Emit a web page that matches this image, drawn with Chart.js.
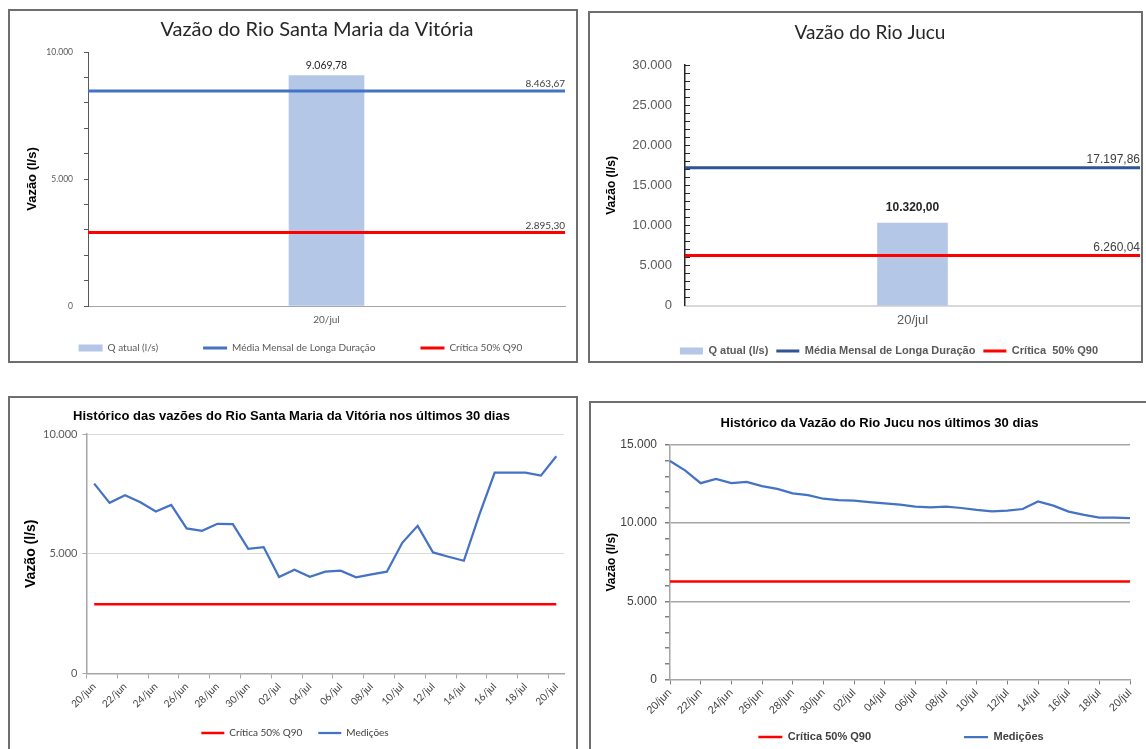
<!DOCTYPE html>
<html><head><meta charset="utf-8">
<script src="https://cdn.jsdelivr.net/npm/chart.js@4.4.1/dist/chart.umd.min.js"></script>
<style>
html,body{margin:0;padding:0;background:#fff;width:1146px;height:749px;overflow:hidden;position:relative;}
canvas{position:absolute;}
.b{position:absolute;border:2px solid #6e6e6e;box-sizing:border-box;pointer-events:none;}
</style></head><body>
<canvas id="c1" width="566" height="352" style="left:10px;top:11px"></canvas>
<canvas id="c2" width="550" height="353" style="left:591px;top:14px"></canvas>
<canvas id="c3" width="566" height="349" style="left:10px;top:399px"></canvas>
<canvas id="c4" width="555" height="349" style="left:591px;top:404px"></canvas>
<div class="b" style="left:8px;top:9px;width:570px;height:354px"></div>
<div class="b" style="left:588px;top:11px;width:555px;height:352px"></div>
<div class="b" style="left:8px;top:396px;width:570px;height:400px"></div>
<div class="b" style="left:589px;top:401px;width:600px;height:400px"></div>
<script>
// ---------- DATA ----------
const smvCategoria = ['20/jul'];
const smvQAtual = [9069.78];
const smvMedia = 8463.67;
const smvCritica = 2895.30;
const smvTicksY = [0, 5000, 10000];

const jucuCategoria = ['20/jul'];
const jucuQAtual = [10320.00];
const jucuMedia = 17197.86;
const jucuCritica = 6260.04;
const jucuTicksY = [0, 5000, 10000, 15000, 20000, 25000, 30000];

const dias = ['20/jun','21/jun','22/jun','23/jun','24/jun','25/jun','26/jun','27/jun','28/jun','29/jun','30/jun',
  '01/jul','02/jul','03/jul','04/jul','05/jul','06/jul','07/jul','08/jul','09/jul','10/jul',
  '11/jul','12/jul','13/jul','14/jul','15/jul','16/jul','17/jul','18/jul','19/jul','20/jul'];
const smvMedicoes = [7930, 7125, 7445, 7153, 6764, 7042, 6056, 5958, 6250, 6236, 5208,
  5278, 4028, 4333, 4042, 4250, 4292, 4014, 4139, 4250, 5458,
  6167, 5055, 4875, 4708, 6625, 8389, 8389, 8389, 8264, 9069.78];
const jucuMedicoes = [13977, 13362, 12558, 12833, 12558, 12643, 12367, 12198, 11901, 11795, 11562,
  11478, 11435, 11350, 11260, 11181, 11054, 11012, 11054, 10970, 10843,
  10758, 10800, 10906, 11393, 11118, 10737, 10525, 10355, 10355, 10320];
const smvHistTicksY = [0, 5000, 10000];
const jucuHistTicksY = [0, 5000, 10000, 15000];

// ---------- HELPERS ----------
function fmtInt(v){ return Math.round(v).toString().replace(/\B(?=(\d{3})+(?!\d))/g,'.'); }
function fmtDec(v){ const p = v.toFixed(2).split('.'); return fmtInt(+p[0]) + ',' + p[1]; }
const CAL = "Lato, 'Open Sans', sans-serif";
const ARI = "'Liberation Sans', Arial, sans-serif";

const valueLabels = {
  id: 'valueLabels',
  afterDatasetsDraw(chart, args, opts){
    const items = opts.items || [];
    const ctx = chart.ctx;
    ctx.save();
    items.forEach(it => {
      const meta = chart.getDatasetMeta(it.ds);
      const pts = meta.data; const el = pts[pts.length - 1];
      const raw = chart.data.datasets[it.ds].data; const last = raw[raw.length - 1];
      const v = (typeof last === 'object') ? last.y : last;
      ctx.font = it.font; ctx.fillStyle = it.color; ctx.textBaseline = 'middle';
      if (it.kind === 'bar') { ctx.textAlign = 'center'; ctx.fillText(fmtDec(v), el.x, el.y - it.dy); }
      else { ctx.textAlign = 'right'; ctx.fillText(fmtDec(v), chart.chartArea.right + (it.dx || 0), el.y - it.dy); }
    });
    ctx.restore();
  }
};
const boxShift = {
  id: 'boxShift',
  afterLayout(chart, args, o){
    const t = chart.titleBlock, l = chart.legend;
    if (t && o.titleX != null){ const s = o.titleX - (t.left + t.right)/2; t.left += s; t.right += s; }
    if (l && o.legendX != null){ const s = o.legendX - (l.left + l.right)/2; l.left += s; l.right += s; }
    if (l && o.legendY != null){
      const lo = chart.options.plugins.legend.labels;
      const fs = lo.font.size;
      const cur = l.top + lo.padding + fs/2;
      const s = o.legendY - cur; l.top += s;
      l.bottom = Math.max(l.bottom + s, o.legendY + fs);
    }
  }
};
Chart.register(valueLabels, boxShift);
Chart.defaults.animation = false;
Chart.defaults.responsive = false;
Chart.defaults.devicePixelRatio = 1;
Chart.defaults.plugins.tooltip.enabled = false;

function legendOpts(font, color, padding, R, psw, boxH){
  return { position: 'bottom', maxHeight: R,
    labels: { usePointStyle: true, pointStyleWidth: psw, boxHeight: boxH, padding: padding,
      font: font, color: color, sort: (a,b) => a.datasetIndex - b.datasetIndex } };
}
function padB(fs, padding, R){ return Math.max(0, R - (fs + padding + 10)); }

// ---------- CHART 1 ----------
new Chart(document.getElementById('c1'), {
  type: 'bar',
  data: { labels: smvCategoria, datasets: [
    { label: 'Q atual (l/s)', data: smvQAtual, backgroundColor: '#B4C7E7', barThickness: 75, grouped: false, order: 1, pointStyle: 'rect' },
    { type: 'line', label: 'Média Mensal de Longa Duração', xAxisID: 'xl', data: [{x:0,y:smvMedia},{x:1,y:smvMedia}],
      borderColor: '#4472C4', backgroundColor: '#4472C4', borderWidth: 3, pointRadius: 0, order: 0, pointStyle: 'line' },
    { type: 'line', label: 'Crítica 50% Q90', xAxisID: 'xl', data: [{x:0,y:smvCritica},{x:1,y:smvCritica}],
      borderColor: '#FF0000', backgroundColor: '#FF0000', borderWidth: 3, pointRadius: 0, order: 0, pointStyle: 'line' }
  ]},
  options: {
    layout: { padding: { left: 0, right: 11, top: 0, bottom: padB(10, 45, 29) } },
    scales: {
      x: { type: 'category', offset: true, grid: { display: false, drawTicks: false },
        border: { color: '#A6A6A6', width: 1 },
        ticks: { font: { family: CAL, size: 10 }, color: '#595959', padding: 8 } },
      xl: { type: 'linear', min: 0, max: 1, display: false, offset: false, grid: { offset: false } },
      y: { min: 0, max: 10000, afterFit: s => { s.width = 78; },
        ticks: { stepSize: 1000, autoSkip: false, padding: 11, font: { family: CAL, size: 8.5 }, color: '#595959',
          callback: v => smvTicksY.includes(v) ? fmtInt(v) : '' },
        grid: { drawOnChartArea: false, tickLength: 4, color: '#595959' },
        border: { color: '#595959', width: 1 },
        title: { display: true, text: 'Vazão (l/s)', font: { family: ARI, size: 13, weight: 'bold' }, color: '#000', padding: { top: 14.2, bottom: 0 } } }
    },
    plugins: {
      title: { display: true, text: 'Vazão do Rio Santa Maria da Vitória', font: { family: CAL, size: 20, weight: 'normal' }, color: '#262626', padding: { top: 7, bottom: 10 } },
      legend: legendOpts({ family: CAL, size: 10 }, '#595959', 45, 29, 24, 7),
      boxShift: { titleX: 307, legendX: 290.5, legendY: 337 },
      valueLabels: { items: [
        { ds: 0, kind: 'bar', dy: 10, font: '10.5px ' + CAL, color: '#262626' },
        { ds: 1, kind: 'line', dy: 7, font: '10px ' + CAL, color: '#404040' },
        { ds: 2, kind: 'line', dy: 7, font: '10px ' + CAL, color: '#404040' } ] }
    }
  }
});

// ---------- CHART 2 ----------
new Chart(document.getElementById('c2'), {
  type: 'bar',
  data: { labels: jucuCategoria, datasets: [
    { label: 'Q atual (l/s)', data: jucuQAtual, backgroundColor: '#B4C7E7', barThickness: 70, grouped: false, order: 1, pointStyle: 'rect' },
    { type: 'line', label: 'Média Mensal de Longa Duração', xAxisID: 'xl', data: [{x:0,y:jucuMedia},{x:1,y:jucuMedia}],
      borderColor: '#2F5597', backgroundColor: '#2F5597', borderWidth: 3, pointRadius: 0, order: 0, pointStyle: 'line' },
    { type: 'line', label: 'Crítica  50% Q90', xAxisID: 'xl', data: [{x:0,y:jucuCritica},{x:1,y:jucuCritica}],
      borderColor: '#FF0000', backgroundColor: '#FF0000', borderWidth: 3, pointRadius: 0, order: 0, pointStyle: 'line' }
  ]},
  options: {
    layout: { padding: { left: 0, right: 1, top: 0, bottom: padB(11, 8, 31.2) } },
    scales: {
      x: { type: 'category', offset: true, grid: { display: false, drawTicks: false },
        border: { color: '#D9D9D9', width: 2 },
        ticks: { font: { family: ARI, size: 13 }, color: '#595959', padding: 7.2 } },
      xl: { type: 'linear', min: 0, max: 1, display: false, offset: false, grid: { offset: false } },
      y: { min: 0, max: 30000, afterFit: s => { s.width = 94; },
        ticks: { stepSize: 1000, autoSkip: false, padding: 18, font: { family: ARI, size: 13 }, color: '#595959',
          callback: v => jucuTicksY.includes(v) ? fmtInt(v) : '' },
        grid: { drawOnChartArea: false, tickLength: -5, color: '#262626' },
        border: { color: '#262626', width: 1.5 },
        title: { display: true, text: 'Vazão (l/s)', font: { family: ARI, size: 12, weight: 'bold' }, color: '#000', padding: { top: 13.8, bottom: 0 } } }
    },
    plugins: {
      title: { display: true, text: 'Vazão do Rio Jucu', font: { family: CAL, size: 19, weight: 'normal' }, color: '#262626', padding: { top: 7.6, bottom: 20.6 } },
      legend: legendOpts({ family: ARI, size: 11, weight: 'bold' }, '#595959', 8, 31.2, 23, 7),
      boxShift: { titleX: 279, legendX: 298, legendY: 337 },
      valueLabels: { items: [
        { ds: 0, kind: 'bar', dy: 15, font: 'bold 12px ' + ARI, color: '#262626' },
        { ds: 1, kind: 'line', dy: 8, font: '12px ' + ARI, color: '#404040' },
        { ds: 2, kind: 'line', dy: 8, font: '12px ' + ARI, color: '#404040' } ] }
    }
  }
});

// ---------- CHART 3 ----------
new Chart(document.getElementById('c3'), {
  type: 'line',
  data: { labels: dias, datasets: [
    { label: 'Crítica 50% Q90', data: [{x: dias[0], y: smvCritica}, {x: dias[dias.length-1], y: smvCritica}],
      borderColor: '#FF0000', backgroundColor: '#FF0000', borderWidth: 2.5, pointRadius: 0, pointStyle: 'line' },
    { label: 'Medições', data: smvMedicoes, borderColor: '#4472C4', backgroundColor: '#4472C4', borderWidth: 2.25, pointRadius: 0, pointStyle: 'line' }
  ]},
  options: {
    layout: { padding: { left: 0, right: 12, top: 0, bottom: padB(10, 16, 36) } },
    scales: {
      x: { type: 'category', offset: true,
        grid: { offset: true, drawOnChartArea: false, tickLength: 5, tickColor: c => (c.index % 2 === 0) ? '#A6A6A6' : 'rgba(0,0,0,0)' },
        border: { color: '#A6A6A6', width: 1.5 },
        ticks: { autoSkip: false, maxRotation: 45, minRotation: 45, padding: 2, font: { family: CAL, size: 10 }, color: '#404040',
          callback: (v, i) => (i % 2 === 0) ? dias[i] : '' } },
      y: { min: 0, max: 10000, afterFit: s => { s.width = 76.5; },
        ticks: { stepSize: 5000, autoSkip: false, padding: 5, font: { family: CAL, size: 11 }, color: '#595959',
          callback: v => smvHistTicksY.includes(v) ? fmtInt(v) : '' },
        grid: { color: '#D9D9D9', tickLength: 4, tickColor: '#A6A6A6' },
        border: { color: '#A6A6A6', width: 1.5 },
        title: { display: true, text: 'Vazão (l/s)', font: { family: ARI, size: 14, weight: 'bold' }, color: '#000', padding: { top: 12.6, bottom: 0 } } }
    },
    plugins: {
      title: { display: true, text: 'Histórico das vazões do Rio Santa Maria da Vitória nos últimos 30 dias', font: { family: ARI, size: 13, weight: 'bold' }, color: '#000', padding: { top: 9.2, bottom: 10.2 } },
      legend: legendOpts({ family: CAL, size: 10 }, '#404040', 16, 36, 23, 7),
      boxShift: { titleX: 281.5, legendX: 285, legendY: 334 }
    }
  }
});

// ---------- CHART 4 ----------
new Chart(document.getElementById('c4'), {
  type: 'line',
  data: { labels: dias, datasets: [
    { label: 'Crítica 50% Q90', data: [{x: dias[0], y: jucuCritica}, {x: dias[dias.length-1], y: jucuCritica}],
      borderColor: '#FF0000', backgroundColor: '#FF0000', borderWidth: 2.5, pointRadius: 0, pointStyle: 'line' },
    { label: 'Medições', data: jucuMedicoes, borderColor: '#4472C4', backgroundColor: '#4472C4', borderWidth: 2.25, pointRadius: 0, pointStyle: 'line' }
  ]},
  options: {
    layout: { padding: { left: 0, right: 16, top: 0, bottom: padB(11, 93, 34) } },
    scales: {
      x: { type: 'category', offset: false,
        grid: { drawOnChartArea: false, tickLength: 5, tickColor: c => (c.index % 2 === 0) ? '#808080' : 'rgba(0,0,0,0)' },
        border: { color: '#A6A6A6', width: 1.5 },
        ticks: { autoSkip: false, maxRotation: 45, minRotation: 45, padding: 2, font: { family: ARI, size: 11 }, color: '#404040',
          callback: (v, i) => (i % 2 === 0) ? dias[i] : '' } },
      y: { min: 0, max: 15000, afterFit: s => { s.width = 79; },
        ticks: { stepSize: 1000, autoSkip: false, padding: 8, font: { family: ARI, size: 12 }, color: '#404040',
          callback: v => jucuHistTicksY.includes(v) ? fmtInt(v) : '' },
        grid: { color: c => (c.tick && c.tick.value > 0 && c.tick.value % 5000 === 0) ? '#A6A6A6' : 'rgba(0,0,0,0)', lineWidth: 1.5, tickLength: 5, tickColor: '#808080' },
        border: { color: '#A6A6A6', width: 1.5 },
        title: { display: true, text: 'Vazão (l/s)', font: { family: ARI, size: 12, weight: 'bold' }, color: '#000', padding: { top: 13.8, bottom: 0 } } }
    },
    plugins: {
      title: { display: true, text: 'Histórico da Vazão do Rio Jucu nos últimos 30 dias', font: { family: ARI, size: 13, weight: 'bold' }, color: '#000', padding: { top: 11.2, bottom: 14.2 } },
      legend: legendOpts({ family: ARI, size: 11, weight: 'bold' }, '#404040', 93, 34, 24, 7),
      boxShift: { titleX: 288.5, legendX: 310, legendY: 333 }
    }
  }
});
</script>
</body></html>
